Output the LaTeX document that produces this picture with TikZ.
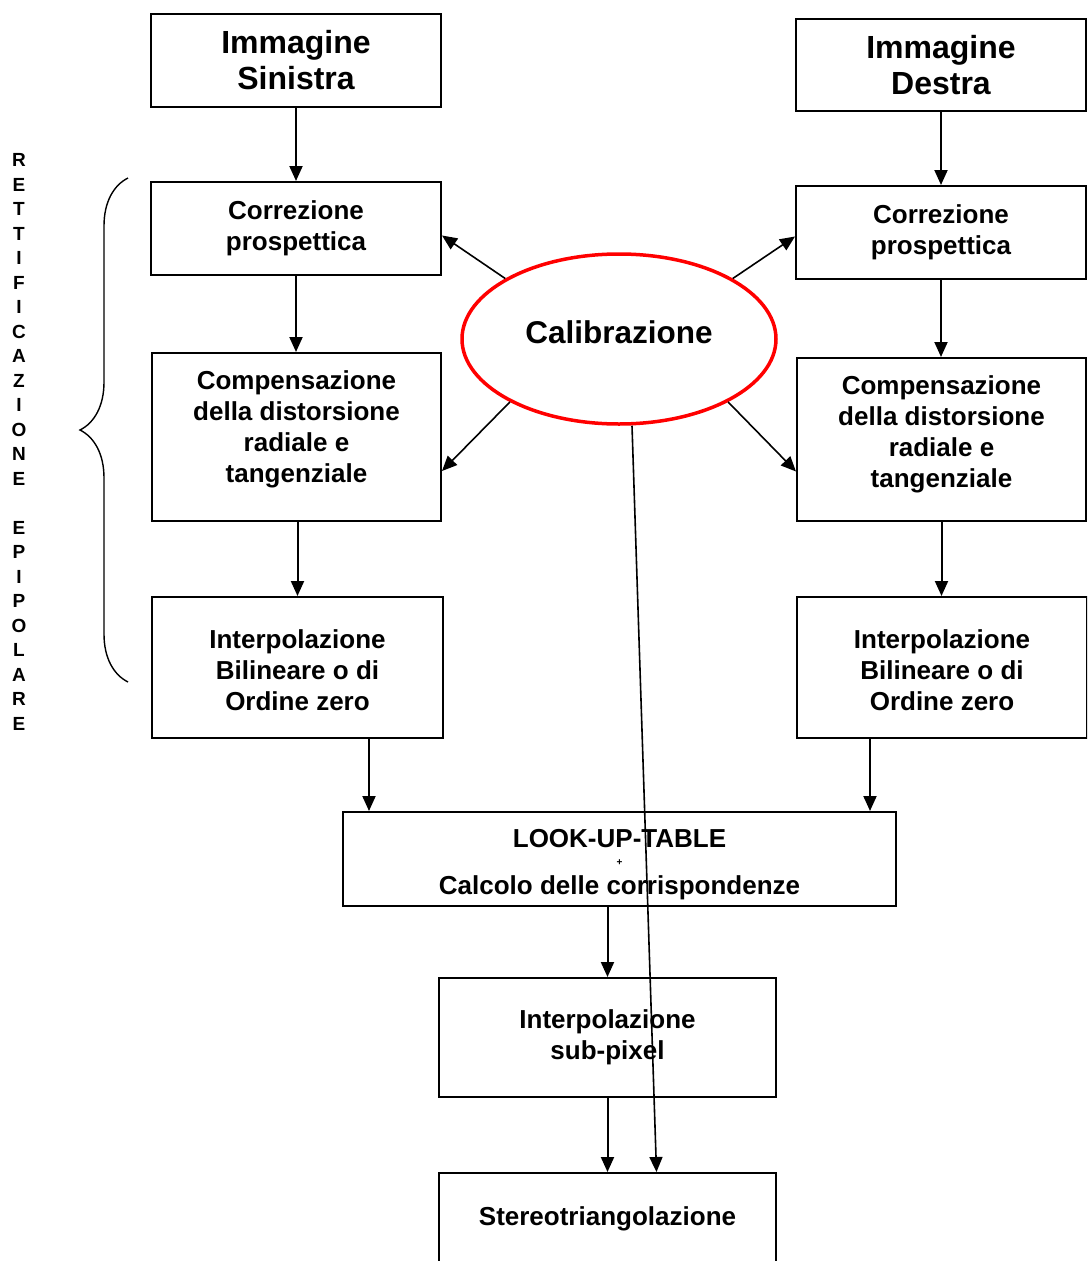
\documentclass[tikz,border=0pt]{standalone}
\usepackage{fontspec}
\setmainfont{Liberation Sans}
\usetikzlibrary{shapes.geometric,arrows.meta,decorations.pathreplacing}

\begin{document}
\begin{tikzpicture}[x=1pt,y=-1pt,
  box/.style={draw,line width=2pt,rectangle,inner sep=2pt,align=center,
    font=\fontsize{26}{31}\selectfont\bfseries},
  bigbox/.style={box,font=\fontsize{32}{36}\selectfont\bfseries},
  frame/.style={draw,line width=2pt,rectangle,inner sep=0pt},
  txt/.style={inner sep=0pt,align=center,font=\fontsize{26}{31}\selectfont\bfseries},
  arr/.style={line width=2pt,-{Triangle[length=15pt,width=13pt]}},
  calarr/.style={line width=1.6pt,-{Triangle[length=15pt,width=13pt]}},
]
\useasboundingbox (0,0) rectangle (1087,1261);
\clip (0,0) rectangle (1087,1261);

% left chain
\node[bigbox,minimum width=290pt,minimum height=93pt] (imgL) at (296,60.5) {Immagine\\Sinistra};
\node[box,minimum width=290pt,minimum height=93pt] (corL) at (296,228.5) {Correzione\\prospettica};
\node[frame,minimum width=289pt,minimum height=168pt] (compL) at (296.5,437) {};
\node[txt] (compLt) at ([yshift=7.5pt]compL.center) {Compensazione\\della distorsione\\radiale e\\tangenziale};
\node[frame,minimum width=291pt,minimum height=141pt] (intL) at (297.5,667.5) {};
\node[txt] (intLt) at ([yshift=-2.5pt]intL.center) {Interpolazione\\Bilineare o di\\Ordine zero};

% right chain
\node[bigbox,minimum width=290pt,minimum height=92pt] (imgR) at (941,65) {Immagine\\Destra};
\node[box,minimum width=290pt,minimum height=93pt] (corR) at (941,232.5) {Correzione\\prospettica};
\node[frame,minimum width=289pt,minimum height=163pt] (compR) at (941.5,439.5) {};
\node[txt] (compRt) at ([yshift=5.5pt]compR.center) {Compensazione\\della distorsione\\radiale e\\tangenziale};
\node[frame,minimum width=290pt,minimum height=141pt] (intR) at (942,667.5) {};
\node[txt] (intRt) at ([yshift=-2.5pt]intR.center) {Interpolazione\\Bilineare o di\\Ordine zero};

% common part
\node[frame,minimum width=553pt,minimum height=94pt] (lut) at (619.5,859) {};
\node[txt] (lutt) at ([yshift=-6pt]lut.center)
  {LOOK-UP-TABLE\\[-13.5pt]{\fontsize{10}{10}\selectfont +}\\[-1.5pt]Calcolo delle corrispondenze};
\node[box,minimum width=337pt,minimum height=119pt] (sub) at (607.5,1037.5) {Interpolazione\\sub-pixel};
\node[box,minimum width=337pt,inner sep=0pt,text height=52pt,text depth=90pt,anchor=north] (stereo) at (607.5,1172) {Stereotriangolazione};

% calibration
\node[ellipse,draw=red,line width=3.5pt,minimum width=314pt,minimum height=170pt,inner sep=0pt] (cal) at (619,339) {};
\node[inner sep=0pt,font=\fontsize{31.5}{36}\selectfont\bfseries] (calt) at ([yshift=7pt]cal.center) {Calibrazione};

% flow arrows
\draw[arr] (imgL) -- (corL);
\draw[arr] (corL) -- (corL |- compL.north);
\draw[arr] ([xshift=1pt]compL.south) -- ([xshift=1pt]compL.south |- intL.north);
\draw[arr] (imgR) -- (corR);
\draw[arr] (corR) -- (corR |- compR.north);
\draw[arr] (compR) -- (compR |- intR.north);
\draw[arr] ([xshift=71.5pt]intL.south) -- ([xshift=71.5pt]intL.south |- lut.north);
\draw[arr] ([xshift=-72pt]intR.south) -- ([xshift=-72pt]intR.south |- lut.north);
\draw[arr] ([xshift=-12pt]lut.south) -- ([xshift=-12pt]lut.south |- sub.north);
\draw[arr] (sub) -- (stereo.north);

% calibration links
\draw[calarr] (cal.152) -- ([yshift=-7pt]corL.east);
\draw[calarr] (cal.28) -- ([yshift=-4pt]corR.west);
\draw[calarr] (cal.210) -- ([yshift=-34pt]compL.east);
\draw[calarr] (cal.330) -- ([yshift=-32pt]compR.west);
\draw[calarr] ([xshift=13pt]cal.south) -- ([xshift=49pt]stereo.north);

% side brace and label
\draw[line width=1.4pt,decorate,decoration={brace,amplitude=48pt}] (128,682) -- (128,178);
\node[align=center,inner sep=0pt,font=\fontsize{19}{24.5}\selectfont\bfseries] (rect) at (19,442)
  {R\\E\\T\\T\\I\\F\\I\\C\\A\\Z\\I\\O\\N\\E\\[24.5pt]E\\P\\I\\P\\O\\L\\A\\R\\E};
\end{tikzpicture}
\end{document}
